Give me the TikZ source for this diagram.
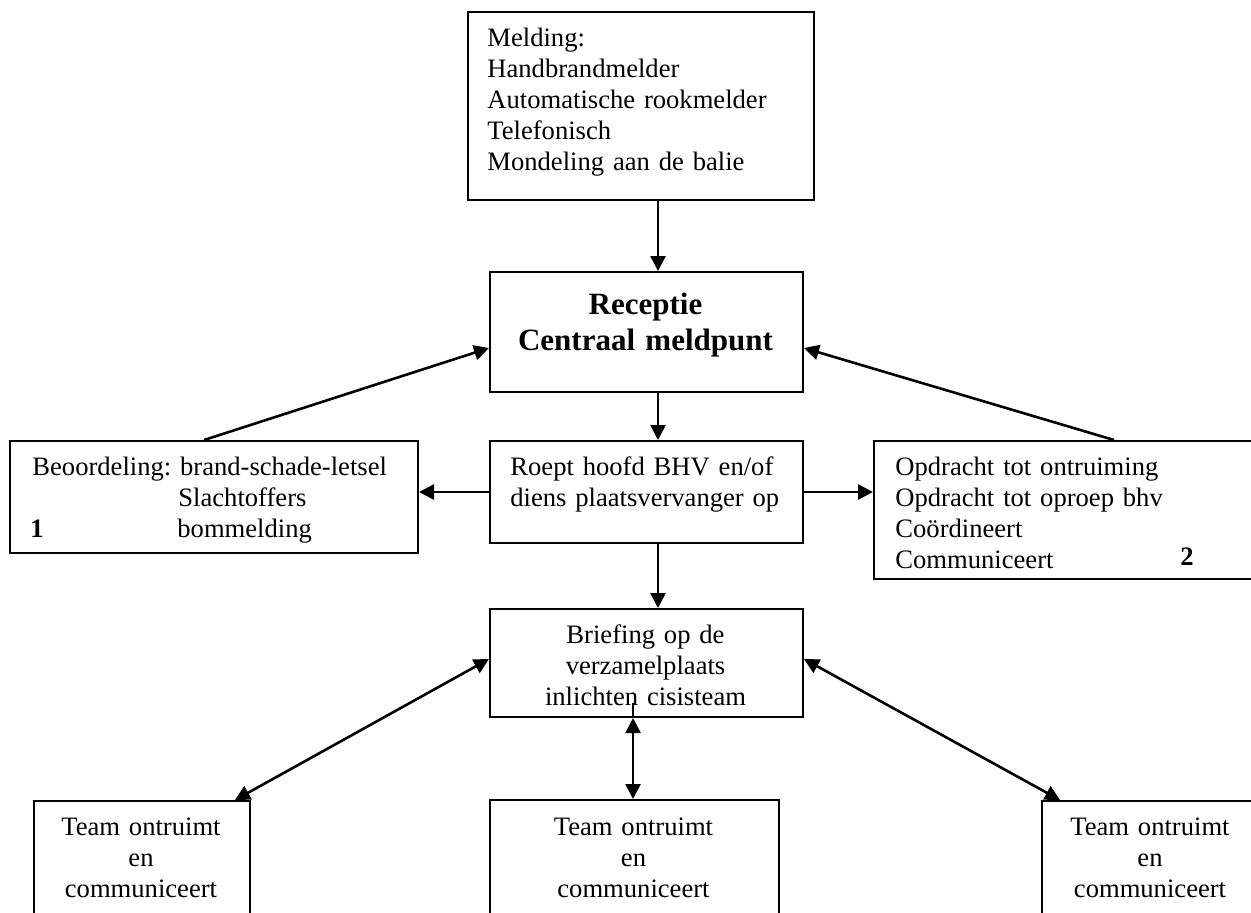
\documentclass[tikz,border=0pt]{standalone}
\usepackage{fontspec}
\setmainfont{Liberation Serif}
\usetikzlibrary{arrows.meta,calc}
\begin{document}
\begin{tikzpicture}[x=0.5pt,y=-0.5pt,
  box/.style={draw, line width=1pt, inner sep=0pt, anchor=north west},
  txt/.style={inner sep=0pt, anchor=base west, font=\fontsize{13.3pt}{15.5pt}\selectfont},
  mtxt/.style={txt, align=left, text width=#1},
  ctxt/.style={inner sep=0pt, anchor=base, align=center, text width=#1, font=\fontsize{13.3pt}{15.5pt}\selectfont},
  arr/.style={line width=1.3pt, -{Triangle[length=7.5pt,width=7.5pt]}},
  darr/.style={line width=1.3pt, {Triangle[length=7.5pt,width=7.5pt]}-{Triangle[length=7.5pt,width=7.5pt]}}]
\useasboundingbox (0,0) rectangle (1251,912);
\clip (0,0) rectangle (1251,912);
% boxes
\node[box, minimum width=173pt, minimum height=94pt] (top) at (467,11) {};
\node[box, minimum width=156.5pt, minimum height=60pt] (rec) at (489,271) {};
\node[box, minimum width=156.5pt, minimum height=51pt] (roept) at (489,440) {};
\node[box, minimum width=204pt, minimum height=56pt] (lb) at (9,440) {};
\node[box, minimum width=194.5pt, minimum height=69pt] (rb) at (873,440) {};
\node[box, minimum width=156.5pt, minimum height=54pt] (brief) at (489,608) {};
\node[box, minimum width=108pt, minimum height=70pt] (blb) at (33,800) {};
\node[box, minimum width=144.5pt, minimum height=70pt] (bmb) at (489,799) {};
\node[box, minimum width=109pt, minimum height=70pt] (brb) at (1041,800) {};
% texts
\node[mtxt=170pt] (toptxt) at (487,46) {Melding:\\Handbrandmelder\\Automatische rookmelder\\Telefonisch\\Mondeling aan de balie};
\node[inner sep=0pt, anchor=base, align=center, text width=155pt, font=\fontsize{15.5pt}{18pt}\selectfont\bfseries] (rectxt) at (645.5,314) {Receptie\\Centraal meldpunt};
\node[mtxt=150pt] (roepttxt) at (510,475) {Roept hoofd BHV en/of\\diens plaatsvervanger op};
\node[txt] (lbt1) at (32,475) {Beoordeling: brand-schade-letsel};
\node[txt] (lbt2) at (178,506) {Slachtoffers};
\node[txt, font=\fontsize{13.3pt}{15.5pt}\selectfont\bfseries] (lbt3) at (30,537) {1};
\node[txt] (lbt4) at (177,537) {bommelding};
\node[mtxt=170pt] (rbtxt) at (895,475) {Opdracht tot ontruiming\\Opdracht tot oproep bhv\\Coördineert\\Communiceert};
\node[txt, font=\fontsize{13.3pt}{15.5pt}\selectfont\bfseries] (rb2) at (1180,565) {2};
\node[ctxt=150pt] (brieftxt) at (645.5,643) {Briefing op de\\verzamelplaats\\inlichten cisisteam};
\node[ctxt=105pt] (blbtxt) at (141,835) {Team ontruimt\\en\\communiceert};
\node[ctxt=140pt] (bmbtxt) at (633.5,835) {Team ontruimt\\en\\communiceert};
\node[ctxt=105pt] (brbtxt) at (1150,835) {Team ontruimt\\en\\communiceert};
% connectors
\coordinate (c658) at (658,0);
\coordinate (c633) at (633,0);
\coordinate (stub) at (633,703);
\draw[arr] (top.south -| c658) -- (rec.north -| c658);
\draw[arr] (rec.south -| c658) -- (roept.north -| c658);
\draw[arr] (roept.south -| c658) -- (brief.north -| c658);
\draw[arr] (roept.west) -- (roept.west -| lb.east);
\draw[arr] (roept.east) -- (roept.east -| rb.west);
\draw[arr] ([xshift=-5pt]lb.north) -- ([yshift=-8pt]rec.west);
\draw[arr] ([xshift=22.75pt]rb.north) -- ([yshift=-8pt]rec.east);
\draw[darr] ([yshift=2pt]brief.west) -- ([xshift=-8pt]blb.north east);
\draw[darr] ([yshift=2pt]brief.east) -- ([xshift=9.5pt]brb.north west);
\draw[line width=1.3pt] (stub) -- (brief.south -| c633);
\draw[darr] (brief.south -| c633) -- (bmb.north -| c633);
\end{tikzpicture}
\end{document}
